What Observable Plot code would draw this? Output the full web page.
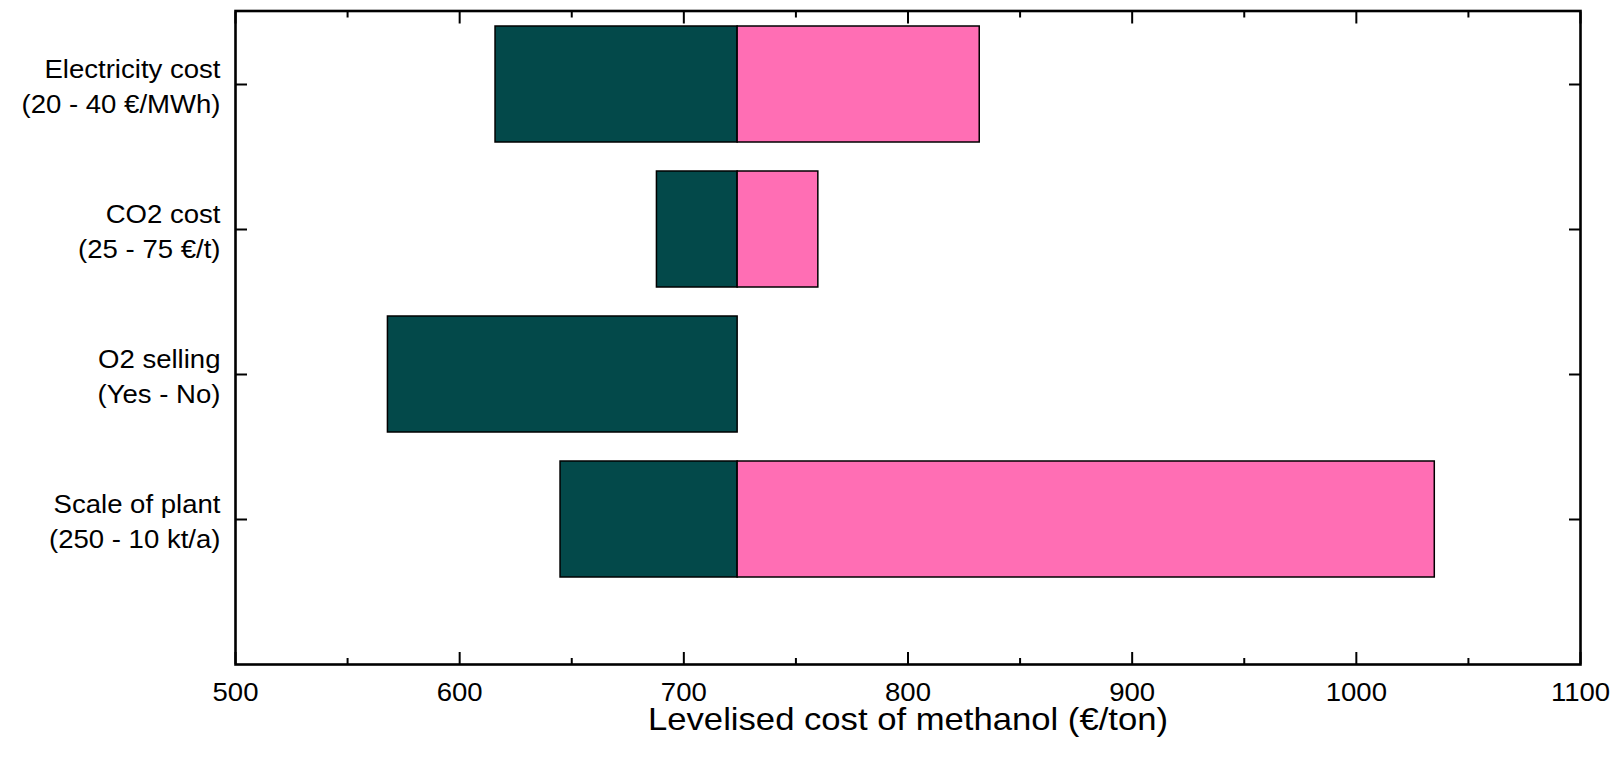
<!DOCTYPE html>
<html>
<head>
<meta charset="utf-8">
<script src="https://cdn.jsdelivr.net/npm/d3@7"></script>
<script src="https://cdn.jsdelivr.net/npm/@observablehq/plot@0.6"></script>
<style>
  html, body { margin: 0; padding: 0; background: #ffffff; }
  #chart svg { display: block; }
</style>
</head>
<body>
<div id="chart"></div>
<script>
// Sensitivity of the levelised cost of methanol to four input factors
const factorNames = ["Electricity cost", "CO2 cost", "O2 selling", "Scale of plant"];
const factorRanges = ["(20 - 40 €/MWh)", "(25 - 75 €/t)", "(Yes - No)", "(250 - 10 kt/a)"];
const baseCost = 724;                      // €/ton, reference case
const lowCost = [616, 688, 568, 645];      // cost at the favourable end of each range
const highCost = [832, 760, 724, 1035];    // cost at the unfavourable end of each range
const majorTicks = [500, 600, 700, 800, 900, 1000, 1100];
const minorTicks = [550, 650, 750, 850, 950, 1050];
const xLabel = "Levelised cost of methanol (€/ton)";

const rows = factorNames.map((name, i) => ({
  factor: name,
  low: lowCost[i],
  high: highCost[i],
  base: baseCost
}));

const dark = "#03494a";
const pink = "#ff6eb4";
const tickFont = 26;
const blank = () => "";

const chart = Plot.plot({
  width: 1618,
  height: 761,
  marginLeft: 235,
  marginRight: 38,
  marginTop: 10.5,
  marginBottom: 97,
  style: {fontFamily: "'Liberation Sans', Arial, Helvetica, sans-serif", color: "#000", background: "#fff"},
  x: {domain: [500, 1100]},
  y: {type: "band", domain: factorNames, paddingInner: 0.2, paddingOuter: 0.1, insetBottom: 72.5},
  marks: [
    // lower half of each bar: favourable end up to the reference case
    Plot.barX(rows, {y: "factor", x1: "low", x2: "base", fill: dark, stroke: "#000", strokeWidth: 1.5}),
    // upper half: reference case up to the unfavourable end
    Plot.barX(rows.filter(d => d.high > d.base), {y: "factor", x1: "base", x2: "high", fill: pink, stroke: "#000", strokeWidth: 1.5}),
    Plot.frame({stroke: "#000", strokeWidth: 2.6}),
    // bottom axis with inward ticks
    Plot.axisX({anchor: "bottom", ticks: majorTicks, tickSize: -12, tickPadding: 30, strokeWidth: 2, fontSize: tickFont, label: null, tickFormat: d => String(d)}),
    Plot.axisX({anchor: "bottom", ticks: minorTicks, tickSize: -6, strokeWidth: 2, label: null, tickFormat: blank}),
    // top axis mirrors the tick marks only
    Plot.axisX({anchor: "top", ticks: majorTicks, tickSize: -12, strokeWidth: 2, label: null, tickFormat: blank}),
    Plot.axisX({anchor: "top", ticks: minorTicks, tickSize: -6, strokeWidth: 2, label: null, tickFormat: blank}),
    // factor labels on the left, two lines each
    Plot.axisY({anchor: "left", tickSize: -12, tickPadding: 27, strokeWidth: 2, fontSize: tickFont, lineHeight: 1.33, label: null,
      tickFormat: d => `${d}\n${factorRanges[factorNames.indexOf(d)]}`}),
    Plot.axisY({anchor: "right", tickSize: -12, strokeWidth: 2, label: null, tickFormat: blank}),
    // x-axis title
    Plot.text([xLabel], {frameAnchor: "bottom", dy: 55, text: d => d, fontSize: 31.5, lineAnchor: "middle", fill: "#000"})
  ]
});

// the typeface of the chart runs slightly wide; widen glyphs about their anchor
function widen(selector, k) {
  chart.querySelectorAll(selector).forEach(t => {
    const tr = t.getAttribute("transform") || "";
    t.setAttribute("transform", (tr + ` scale(${k},1)`).trim());
  });
}
widen('g[aria-label$="tick label"] text', 1.06);
widen('g[aria-label="text"] text', 1.1);

document.getElementById("chart").appendChild(chart);
</script>
</body>
</html>
